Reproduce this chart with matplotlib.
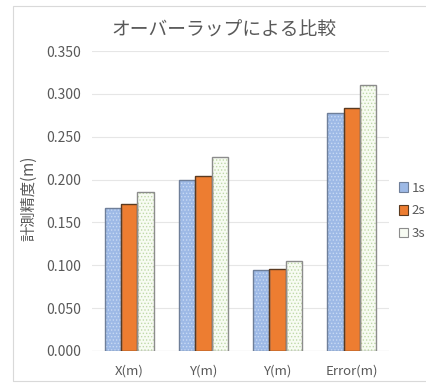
import matplotlib.pyplot as plt
import matplotlib.patches as mpatches
import numpy as np

plt.rcParams['font.family'] = ['Noto Sans CJK JP', 'DejaVu Sans']
plt.rcParams['hatch.linewidth'] = 0.6

# data
categories = ['X(m)', 'Y(m)', 'Y(m)', 'Error(m)']
series_names = ['1s', '2s', '3s']
s1 = [0.167, 0.200, 0.095, 0.278]
s2 = [0.172, 0.204, 0.096, 0.284]
s3 = [0.186, 0.226, 0.105, 0.310]
yticks = [0.0, 0.05, 0.10, 0.15, 0.20, 0.25, 0.30, 0.35]

# face colour, hatch colour, hatch, outline
styles = [
    ('#9DB9E6', '#C9DAF4', '.....', '#6F7F99'),
    ('#ED7D31', '#ED7D31', None, '#5A3A20'),
    ('#F7FBF2', '#BFD9A8', '.....', '#8C8C8C'),
]

fig = plt.figure(figsize=(4.27, 3.87), dpi=100)
ax = fig.add_axes([92 / 427, 36 / 387, 297 / 427, 300 / 387])

x = np.arange(len(categories))
w = 0.22
for i, vals in enumerate([s1, s2, s3]):
    fc, hc, hatch, ec = styles[i]
    pos = x + (i - 1) * w
    ax.bar(pos, vals, w, color=fc, edgecolor=hc, hatch=hatch, linewidth=0, zorder=2)
    ax.bar(pos, vals, w, facecolor='none', edgecolor=ec, linewidth=1.0, zorder=3)

ax.set_xlim(-0.5, len(categories) - 0.5)
ax.set_ylim(0, 0.35)
ax.set_yticks(yticks)
ax.set_yticklabels(['%.3f' % v for v in yticks])
ax.set_xticks(x)
ax.set_xticklabels(categories)
ax.tick_params(length=0, colors='#595959')
ax.tick_params(axis='y', labelsize=10, pad=8)
ax.tick_params(axis='x', labelsize=9.5, pad=10)
ax.grid(axis='y', color='#E6E6E6', linewidth=0.8, zorder=0)
for sp in ax.spines.values():
    sp.set_visible(False)
ax.axhline(0, color='#D9D9D9', linewidth=0.8, zorder=1)

fig.text(29 / 427, 1 - 198 / 387, '計測精度(m)', rotation=90, ha='center', va='center',
         fontsize=11, color='#595959')
fig.text(224 / 427, 1 - 30 / 387, 'オーバーラップによる比較', ha='center', va='center',
         fontsize=13.5, color='#595959')

handles = []
for fc, hc, hatch, ec in styles:
    handles.append(mpatches.Patch(facecolor=fc, edgecolor=ec, linewidth=0.8))
fig.legend(handles, series_names, loc='center left', bbox_to_anchor=(390 / 427, 1 - 211 / 387),
           frameon=False, fontsize=9.5, labelcolor='#595959', handlelength=0.7,
           handleheight=0.7, handletextpad=0.25, labelspacing=0.75, borderpad=0.2)

# chart area outline
fig.add_artist(mpatches.Rectangle((13 / 427, 6 / 387), 1.0, 375 / 387, transform=fig.transFigure,
                                  facecolor='none', edgecolor='#D9D9D9', linewidth=0.8))

fig.savefig('out.png', dpi=100, facecolor='white')
